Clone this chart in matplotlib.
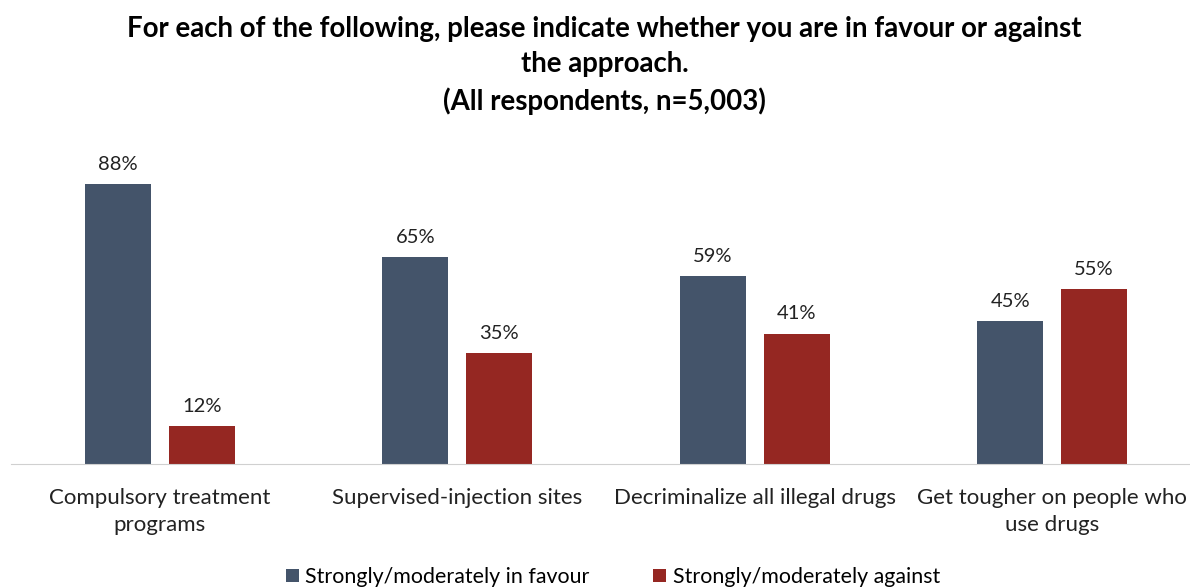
import numpy as np
import matplotlib.pyplot as plt

plt.rcParams['font.family'] = ['Lato', 'DejaVu Sans']

categories = ['Compulsory treatment\nprograms', 'Supervised-injection sites',
              'Decriminalize all illegal drugs', 'Get tougher on people who\nuse drugs']
in_favour = [88, 65, 59, 45]
against = [12, 35, 41, 55]
series_names = ['Strongly/moderately in favour', 'Strongly/moderately against']

blue = '#44546a'
red = '#952722'

fig = plt.figure(figsize=(11.9, 5.88), dpi=100)
ax = fig.add_axes([11 / 1190, 1 - 464 / 588, 1190 / 1190, 318 / 588])

x = np.arange(len(categories))
w = 0.222
off = 0.141
b1 = ax.bar(x - off, in_favour, w, color=blue, label=series_names[0])
b2 = ax.bar(x + off, against, w, color=red, label=series_names[1])

for bars, vals in [(b1, in_favour), (b2, against)]:
    for rect, v in zip(bars, vals):
        ax.text(rect.get_x() + rect.get_width() / 2, v + 3.5, f'{v}%',
                ha='center', va='bottom', fontsize=14.5, color='#222222')

ax.set_xlim(-0.5, 3.5)
ax.set_ylim(0, 100)
ax.set_yticks([])
ax.set_xticks(x)
ax.set_xticklabels(categories, fontsize=16, color='#222222', linespacing=1.45)
ax.tick_params(axis='x', length=0, pad=17)
for s in ['top', 'right', 'left']:
    ax.spines[s].set_visible(False)
ax.spines['bottom'].set_color('#d0d0d0')

fig.text(0.508, 1 - 16 / 588, 'For each of the following, please indicate whether you are in favour or against\nthe approach.\n(All respondents, n=5,003)',
         ha='center', va='top', fontsize=19.9, fontweight='bold', linespacing=1.45)

fig.legend(loc='center', bbox_to_anchor=(0.515, 1 - 577 / 588), ncol=2, frameon=False,
           fontsize=15.4, handlelength=0.6, handleheight=0.6, handletextpad=0.3,
           columnspacing=3.0)

fig.savefig('out.png', dpi=100)
